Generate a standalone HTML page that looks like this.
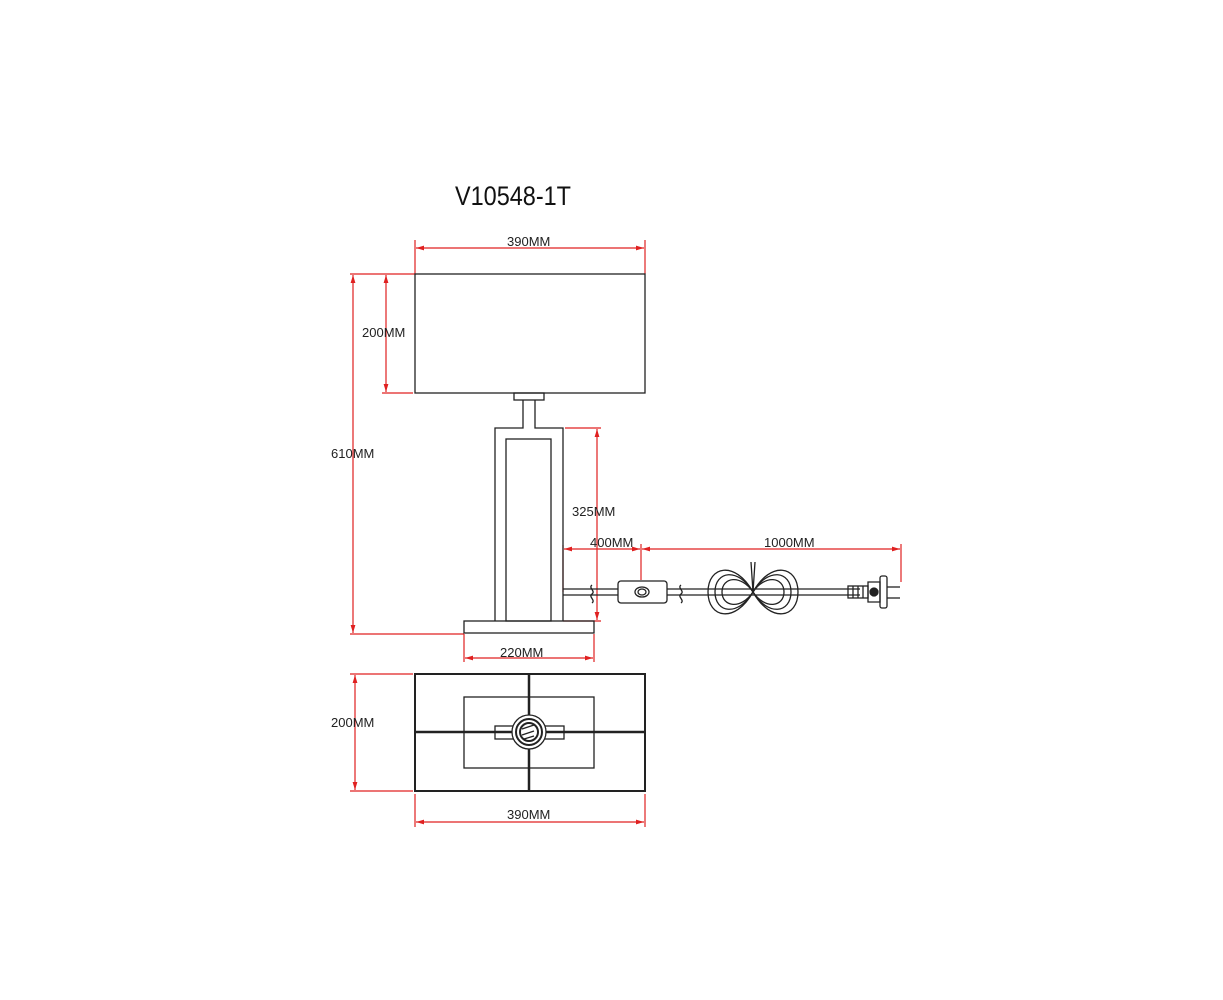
<!DOCTYPE html>
<html><head><style>body{margin:0;background:#fff}svg{display:block}</style></head><body>
<svg width="1223" height="1000" viewBox="0 0 1223 1000" xmlns="http://www.w3.org/2000/svg" font-family="Liberation Sans, sans-serif">
<rect width="1223" height="1000" fill="#fff"/>
<text x="455" y="205" font-size="27" textLength="116" lengthAdjust="spacingAndGlyphs" fill="#111">V10548-1T</text>
<defs>
<marker id="a" viewBox="0 0 10 6" refX="10" refY="3" markerWidth="8" markerHeight="4" orient="auto-start-reverse"><path d="M0,0L10,3L0,6z" fill="#e02020"/></marker>
</defs>
<g stroke="#e02020" stroke-width="1.2" fill="none">
<line x1="415" y1="240" x2="415" y2="274"/><line x1="645" y1="240" x2="645" y2="274"/>
<line x1="416" y1="248" x2="644" y2="248" marker-start="url(#a)" marker-end="url(#a)"/>
<line x1="350" y1="274" x2="415" y2="274"/><line x1="350" y1="634" x2="464" y2="634"/>
<line x1="353" y1="275" x2="353" y2="633" marker-start="url(#a)" marker-end="url(#a)"/>
<line x1="382" y1="393" x2="413" y2="393"/>
<line x1="386" y1="275" x2="386" y2="392" marker-start="url(#a)" marker-end="url(#a)"/>
<line x1="565" y1="428" x2="601" y2="428"/><line x1="563" y1="621" x2="601" y2="621"/>
<line x1="597" y1="429" x2="597" y2="620" marker-start="url(#a)" marker-end="url(#a)"/>
<line x1="563" y1="545" x2="563" y2="592"/>
<line x1="564" y1="549" x2="640" y2="549" marker-start="url(#a)" marker-end="url(#a)"/>
<line x1="641" y1="544" x2="641" y2="580"/>
<line x1="642" y1="549" x2="900" y2="549" marker-start="url(#a)" marker-end="url(#a)"/>
<line x1="901" y1="544" x2="901" y2="582"/>
<line x1="464" y1="634" x2="464" y2="662"/><line x1="594" y1="634" x2="594" y2="662"/>
<line x1="465" y1="658" x2="593" y2="658" marker-start="url(#a)" marker-end="url(#a)"/>
<line x1="350" y1="674" x2="413" y2="674"/><line x1="350" y1="791" x2="413" y2="791"/>
<line x1="355" y1="675" x2="355" y2="790" marker-start="url(#a)" marker-end="url(#a)"/>
<line x1="415" y1="794" x2="415" y2="827"/><line x1="645" y1="794" x2="645" y2="827"/>
<line x1="416" y1="822" x2="644" y2="822" marker-start="url(#a)" marker-end="url(#a)"/>
</g>
<g font-size="13" fill="#222">
<text x="507" y="246">390MM</text>
<text x="362" y="337">200MM</text>
<text x="331" y="458">610MM</text>
<text x="572" y="516">325MM</text>
<text x="590" y="547">400MM</text>
<text x="764" y="547">1000MM</text>
<text x="500" y="657">220MM</text>
<text x="331" y="727">200MM</text>
<text x="507" y="819">390MM</text>
</g>
<g stroke="#222" stroke-width="1.3" fill="none">
<rect x="415" y="274" width="230" height="119"/>
<rect x="514" y="393" width="30" height="7"/>
<path d="M523,400V428H495V621M535,400V428H563V621"/>
<rect x="506" y="439" width="45" height="182"/>
<rect x="464" y="621" width="130" height="12"/>
<line x1="563" y1="589" x2="618" y2="589"/><line x1="563" y1="595" x2="618" y2="595"/>
<path d="M592,585c-4,3 4,6 0,9c-4,3 4,6 0,9"/>
<rect x="618" y="581" width="49" height="22" rx="3"/>
<ellipse cx="642" cy="592" rx="7" ry="5"/><ellipse cx="642" cy="592" rx="4" ry="3"/>
<line x1="667" y1="589" x2="860" y2="589"/><line x1="667" y1="595" x2="860" y2="595"/>
<path d="M681,585c-4,3 4,6 0,9c-4,3 4,6 0,9"/>
<path d="M753,592C735,560 708,566 708,592C708,618 735,624 753,592C771,560 798,566 798,592C798,618 771,624 753,592Z"/>
<path d="M753,592C738,567 715,571 715,592C715,613 738,617 753,592C768,567 791,571 791,592C791,613 768,617 753,592Z"/>
<path d="M753,592C741,574 722,577 722,592C722,607 741,610 753,592C765,574 784,577 784,592C784,607 765,610 753,592Z"/>
<path d="M751,562l2,30l2,-30"/>
<rect x="848" y="586" width="20" height="12"/>
<line x1="853" y1="586" x2="853" y2="598"/><line x1="858" y1="586" x2="858" y2="598"/><line x1="863" y1="586" x2="863" y2="598"/>
<path d="M868,582h12v20h-12z"/>
<circle cx="874" cy="592" r="4" fill="#222"/>
<rect x="880" y="576" width="7" height="32" rx="2"/>
<line x1="887" y1="587" x2="900" y2="587"/><line x1="887" y1="598" x2="900" y2="598"/>
<rect x="415" y="674" width="230" height="117" stroke-width="2"/>
<rect x="464" y="697" width="130" height="71"/>
<line x1="529" y1="674" x2="529" y2="791" stroke-width="2.5"/>
<line x1="415" y1="732" x2="645" y2="732" stroke-width="2.5"/>
<rect x="495" y="726" width="69" height="13"/>
<circle cx="529" cy="732" r="17" fill="#fff"/>
<circle cx="529" cy="732" r="13" stroke-width="2"/>
<circle cx="529" cy="732" r="9" stroke-width="2"/>
<path d="M522,729l12,-4M522,735l12,-4M524,739l10,-3"/>
</g>
</svg>
</body></html>
